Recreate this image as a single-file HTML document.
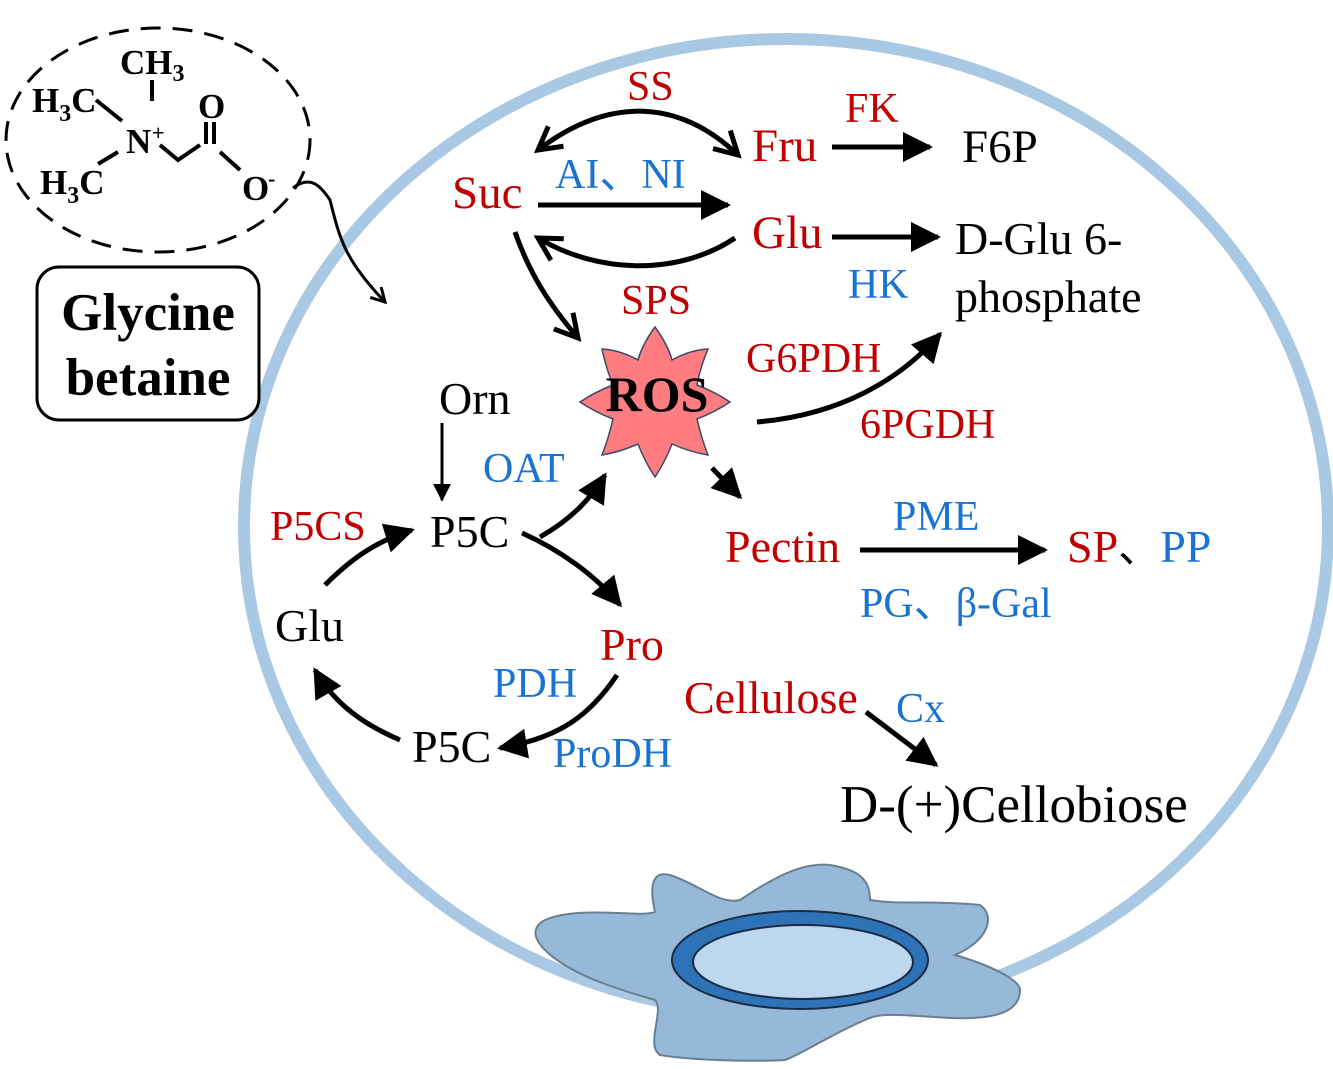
<!DOCTYPE html>
<html><head><meta charset="utf-8"><style>
html,body{margin:0;padding:0;background:#fff}
svg{display:block}
text{font-family:"Liberation Serif",serif}
.r{fill:#c00000}.b{fill:#1a73d0}.k{fill:#000}
</style></head><body>
<svg width="1333" height="1069" viewBox="0 0 1333 1069" xmlns="http://www.w3.org/2000/svg">
<defs>
<marker id="a" viewBox="0 0 10 10" refX="9" refY="5" markerWidth="6" markerHeight="6" orient="auto-start-reverse" markerUnits="strokeWidth"><path d="M0,0 L10,5 L0,10 Z" fill="#000"/></marker>
<marker id="o" viewBox="0 0 12 12" refX="10" refY="6" markerWidth="6" markerHeight="6" orient="auto-start-reverse" markerUnits="strokeWidth"><path d="M1,1 L10,6 L1,11" fill="none" stroke="#000" stroke-width="2"/></marker>
</defs>
<ellipse cx="786" cy="527" rx="542" ry="488" fill="none" stroke="#a9c8e4" stroke-width="12"/>
<path d="M545,920 C580,905 640,918 655,912 C650,890 650,870 670,875 C700,885 720,905 740,900 C770,880 800,862 830,865 C860,870 870,880 870,900 C900,905 930,900 980,905 C995,915 990,940 955,955 C990,965 1020,980 1020,990 C1020,1010 1000,1020 950,1018 C900,1015 880,1012 865,1020 C830,1035 800,1055 785,1060 C750,1062 690,1060 660,1055 C645,1045 665,1010 655,1000 C620,990 570,975 545,950 C530,935 535,925 545,920 Z" fill="#97b9d9" stroke="#6a7f92" stroke-width="2"/>
<ellipse cx="800" cy="960" rx="128" ry="49" fill="#2e72b8" stroke="#1a2a40" stroke-width="2"/>
<ellipse cx="803" cy="962" rx="110" ry="37" fill="#bdd7ee" stroke="#1a2a40" stroke-width="2"/>

<ellipse cx="158" cy="140" rx="152" ry="112" fill="none" stroke="#000" stroke-width="3" stroke-dasharray="20,12"/>
<g font-weight="bold" font-size="35">
<text x="120" y="74" class="k">CH<tspan font-size="24" dy="7">3</tspan></text>
<text x="32" y="112" class="k">H<tspan font-size="24" dy="9">3</tspan><tspan dy="-9">C</tspan></text>
<text x="40" y="194" class="k">H<tspan font-size="24" dy="9">3</tspan><tspan dy="-9">C</tspan></text>
<text x="126" y="153" class="k">N</text><text x="152" y="140" font-size="22" class="k">+</text>
<text x="198" y="118" class="k">O</text>
<text x="242" y="200" class="k">O</text><text x="268" y="186" font-size="22" class="k">-</text>
</g>
<g stroke="#000" stroke-width="4" fill="none">
<line x1="152" y1="80" x2="152" y2="101"/>
<line x1="96" y1="100" x2="122" y2="121"/>
<line x1="98" y1="164" x2="118" y2="152"/>
<polyline points="160,145 178,160 200,145"/>
<line x1="206" y1="122" x2="206" y2="144"/><line x1="214" y1="122" x2="214" y2="144"/>
<line x1="220" y1="152" x2="240" y2="170"/>
</g>
<path d="M293,188 C310,175 320,185 330,200 C340,240 345,260 385,302" fill="none" stroke="#000" stroke-width="3" marker-end="url(#o)"/>
<rect x="37" y="267" width="222" height="153" rx="22" fill="#fff" stroke="#000" stroke-width="3"/>
<text x="148" y="330" text-anchor="middle" font-weight="bold" font-size="53" class="k">Glycine</text>
<text x="148" y="395" text-anchor="middle" font-weight="bold" font-size="53" class="k">betaine</text>

<path d="M655,327 Q668,345 672,360 Q690,350 708,349 Q700,368 697,385 Q715,392 730,402 Q715,412 697,419 Q702,440 708,455 Q690,452 672,444 Q665,462 655,477 Q645,462 638,444 Q620,452 602,455 Q608,440 613,419 Q595,412 580,402 Q595,392 613,385 Q606,368 602,349 Q620,350 638,360 Q642,345 655,327 Z" fill="#ff7c80" stroke="#3a4a6a" stroke-width="1.5"/>
<text x="657" y="411" text-anchor="middle" font-weight="bold" font-size="50" class="k">ROS</text>

<g stroke="#000" stroke-width="5" fill="none">
<path d="M538,150 C610,95 680,100 738,155" marker-end="url(#o)" marker-start="url(#o)"/>
<line x1="832" y1="147" x2="930" y2="147" marker-end="url(#a)"/>
<line x1="538" y1="205" x2="728" y2="205" marker-end="url(#a)"/>
<line x1="832" y1="237" x2="938" y2="237" marker-end="url(#a)"/>
<path d="M735,238 C680,275 600,275 538,238" marker-end="url(#o)"/>
<path d="M515,232 C530,275 550,305 578,338" marker-end="url(#o)"/>
<path d="M757,422 C840,415 900,380 940,334" marker-end="url(#a)"/>
<path d="M712,468 L740,497" marker-end="url(#a)"/>
<line x1="860" y1="550" x2="1045" y2="550" marker-end="url(#a)"/>
<line x1="866" y1="712" x2="936" y2="765" marker-end="url(#a)"/>
<path d="M325,585 C355,555 380,540 412,530" marker-end="url(#a)"/>
<path d="M540,537 C570,520 590,500 605,475" marker-end="url(#a)"/>
<path d="M522,533 C560,550 595,575 620,605" marker-end="url(#a)"/>
<path d="M617,675 C590,715 560,738 500,748" marker-end="url(#a)"/>
<path d="M400,740 C365,725 335,705 315,670" marker-end="url(#a)"/>
</g>
<line x1="442" y1="423" x2="442" y2="500" stroke="#000" stroke-width="3" marker-end="url(#a)"/>

<g font-size="42">
<text x="627" y="100" class="r">SS</text>
<text x="845" y="122" class="r">FK</text>
<text x="752" y="161" font-size="47" class="r">Fru</text>
<text x="962" y="162" font-size="47" class="k">F6P</text>
<text x="555" y="188" class="b">AI、NI</text>
<text x="452" y="208" font-size="47" class="r">Suc</text>
<text x="752" y="248" font-size="47" class="r">Glu</text>
<text x="955" y="254" font-size="46" class="k">D-Glu 6-</text>
<text x="955" y="312" font-size="46" class="k">phosphate</text>
<text x="848" y="298" class="b">HK</text>
<text x="621" y="314" class="r">SPS</text>
<text x="746" y="372" class="r">G6PDH</text>
<text x="860" y="438" class="r">6PGDH</text>
<text x="439" y="414" font-size="46" class="k">Orn</text>
<text x="483" y="482" class="b">OAT</text>
<text x="270" y="540" class="r">P5CS</text>
<text x="430" y="547" font-size="46" class="k">P5C</text>
<text x="893" y="530" class="b">PME</text>
<text x="725" y="562" font-size="46" class="r">Pectin</text>
<text x="1067" y="562" font-size="46" class="r">SP<tspan fill="#000" font-size="42">、</tspan><tspan fill="#1a73d0">PP</tspan></text>
<text x="860" y="617" class="b">PG、β-Gal</text>
<text x="275" y="641" font-size="46" class="k">Glu</text>
<text x="600" y="660" font-size="46" class="r">Pro</text>
<text x="493" y="697" class="b">PDH</text>
<text x="684" y="713" font-size="46" class="r">Cellulose</text>
<text x="896" y="722" class="b">Cx</text>
<text x="412" y="762" font-size="46" class="k">P5C</text>
<text x="553" y="767" class="b">ProDH</text>
<text x="840" y="822" font-size="53" class="k">D-(+)Cellobiose</text>
</g>
</svg>
</body></html>
